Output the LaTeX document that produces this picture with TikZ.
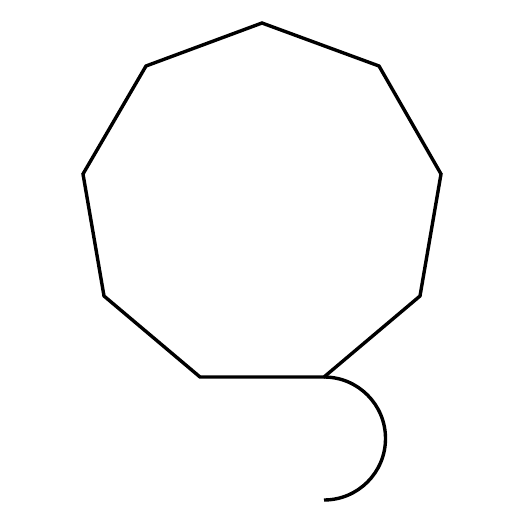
\documentclass[tikz,border=0pt]{standalone}
\begin{document}
\begin{tikzpicture}[x=1pt,y=-1pt,line width=3.4pt,shape line/.style={draw=black,line join=miter}]
\useasboundingbox (0,0) rectangle (525,525);
\coordinate (v1) at (262,23);
\coordinate (v2) at (379,66);
\coordinate (v3) at (441,174);
\coordinate (v4) at (420,296);
\coordinate (v5) at (324,377);
\coordinate (v6) at (200,377);
\coordinate (v7) at (104,296);
\coordinate (v8) at (83,174);
\coordinate (v9) at (146,66);
\draw[shape line] (v1) -- (v2) -- (v3) -- (v4) -- (v5) -- (v6) -- (v7) -- (v8) -- (v9) -- cycle;
\draw[shape line] (v5) arc[start angle=-90,end angle=90,radius=61.5];
\end{tikzpicture}
\end{document}
